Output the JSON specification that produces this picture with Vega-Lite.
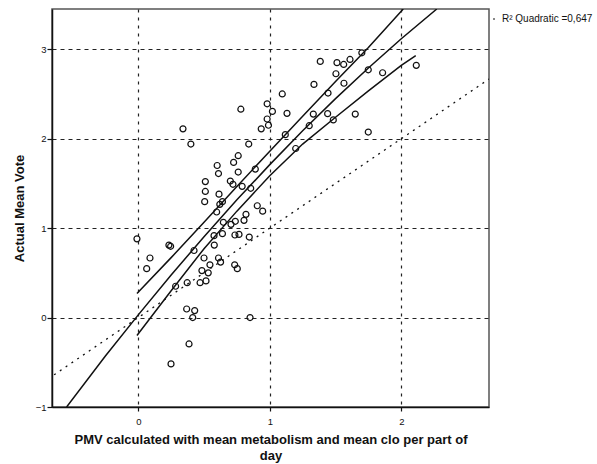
{
  "$schema": "https://vega.github.io/schema/vega-lite/v6.json",
  "width": 437,
  "height": 398,
  "autosize": {"type": "none"},
  "padding": {"left": 52, "top": 9, "right": 108, "bottom": 57},
  "background": "white",
  "config": {
    "font": "Liberation Sans",
    "view": {"stroke": "#555", "strokeWidth": 1.5},
    "axis": {
      "domainColor": "#111",
      "domainWidth": 1.5,
      "tickColor": "#111",
      "tickWidth": 1.2,
      "labelColor": "#111",
      "labelFont": "Liberation Sans",
      "labelFontSize": 9.5,
      "titleFont": "Liberation Sans",
      "titleFontSize": 13,
      "titleFontWeight": "bold",
      "titleColor": "#111",
      "grid": true,
      "gridColor": "#222",
      "gridWidth": 1.2,
      "gridOpacity": 1
    },
    "legend": {
      "orient": "none",
      "legendX": 437,
      "legendY": 5,
      "padding": 0,
      "labelFont": "Liberation Sans",
      "labelFontSize": 10,
      "labelColor": "#111",
      "symbolType": "stroke",
      "symbolSize": 4,
      "symbolStrokeWidth": 1,
      "labelOffset": 3,
      "title": null
    }
  },
  "datasets": {
    "points": [
      {"pmv": 0.78, "vote": 2.33}, {"pmv": 0.34, "vote": 2.11}, {"pmv": 0.40, "vote": 1.94},
      {"pmv": 0.84, "vote": 1.94}, {"pmv": 0.98, "vote": 2.39}, {"pmv": 0.98, "vote": 2.22},
      {"pmv": 0.935, "vote": 2.11}, {"pmv": 0.99, "vote": 2.15}, {"pmv": 0.76, "vote": 1.81},
      {"pmv": 0.725, "vote": 1.735}, {"pmv": 0.60, "vote": 1.70}, {"pmv": 1.384, "vote": 2.864},
      {"pmv": 1.511, "vote": 2.85}, {"pmv": 1.562, "vote": 2.83}, {"pmv": 1.61, "vote": 2.886},
      {"pmv": 1.70, "vote": 2.96}, {"pmv": 1.503, "vote": 2.726}, {"pmv": 1.749, "vote": 2.77},
      {"pmv": 1.858, "vote": 2.737}, {"pmv": 2.114, "vote": 2.82}, {"pmv": 1.336, "vote": 2.607},
      {"pmv": 1.564, "vote": 2.62}, {"pmv": 1.443, "vote": 2.51}, {"pmv": 1.095, "vote": 2.50},
      {"pmv": 1.02, "vote": 2.305}, {"pmv": 1.131, "vote": 2.283}, {"pmv": 1.331, "vote": 2.275},
      {"pmv": 1.44, "vote": 2.28}, {"pmv": 1.30, "vote": 2.145}, {"pmv": 1.483, "vote": 2.21},
      {"pmv": 1.65, "vote": 2.275}, {"pmv": 1.749, "vote": 2.074}, {"pmv": 1.118, "vote": 2.045},
      {"pmv": 1.197, "vote": 1.89}, {"pmv": 0.61, "vote": 1.61}, {"pmv": 0.76, "vote": 1.627},
      {"pmv": 0.51, "vote": 1.52}, {"pmv": 0.51, "vote": 1.41}, {"pmv": 0.505, "vote": 1.296},
      {"pmv": 0.614, "vote": 1.38}, {"pmv": 0.70, "vote": 1.526}, {"pmv": 0.72, "vote": 1.49},
      {"pmv": 0.79, "vote": 1.467}, {"pmv": 0.855, "vote": 1.445}, {"pmv": 0.89, "vote": 1.66},
      {"pmv": 0.905, "vote": 1.25}, {"pmv": 0.946, "vote": 1.19}, {"pmv": 0.62, "vote": 1.266},
      {"pmv": 0.64, "vote": 1.296}, {"pmv": 0.596, "vote": 1.18}, {"pmv": 0.819, "vote": 1.154},
      {"pmv": 0.804, "vote": 1.087}, {"pmv": 0.738, "vote": 1.076}, {"pmv": 0.705, "vote": 1.042},
      {"pmv": 0.647, "vote": 1.065}, {"pmv": 0.64, "vote": 0.938}, {"pmv": 0.576, "vote": 0.916},
      {"pmv": 0.735, "vote": 0.923}, {"pmv": 0.766, "vote": 0.93}, {"pmv": 0.844, "vote": 0.90},
      {"pmv": -0.01, "vote": 0.88}, {"pmv": 0.233, "vote": 0.81}, {"pmv": 0.246, "vote": 0.797},
      {"pmv": 0.578, "vote": 0.81}, {"pmv": 0.424, "vote": 0.75}, {"pmv": 0.089, "vote": 0.666},
      {"pmv": 0.064, "vote": 0.547}, {"pmv": 0.50, "vote": 0.666}, {"pmv": 0.61, "vote": 0.666},
      {"pmv": 0.545, "vote": 0.59}, {"pmv": 0.626, "vote": 0.62}, {"pmv": 0.733, "vote": 0.59},
      {"pmv": 0.753, "vote": 0.547}, {"pmv": 0.484, "vote": 0.525}, {"pmv": 0.532, "vote": 0.50},
      {"pmv": 0.515, "vote": 0.41}, {"pmv": 0.47, "vote": 0.39}, {"pmv": 0.372, "vote": 0.39},
      {"pmv": 0.284, "vote": 0.35}, {"pmv": 0.368, "vote": 0.096}, {"pmv": 0.429, "vote": 0.078},
      {"pmv": 0.414, "vote": 0.0}, {"pmv": 0.85, "vote": 0.0}, {"pmv": 0.386, "vote": -0.295},
      {"pmv": 0.249, "vote": -0.518}
    ],
    "identity": [
      {"pmv": -0.64, "vote": -0.64},
      {"pmv": 2.667, "vote": 2.667}
    ],
    "fit": [
      {"pmv": -0.545, "vote": -1.0}, {"pmv": -0.25, "vote": -0.43}, {"pmv": 0.0, "vote": 0.03},
      {"pmv": 0.25, "vote": 0.476}, {"pmv": 0.5, "vote": 0.904}, {"pmv": 0.75, "vote": 1.316},
      {"pmv": 1.0, "vote": 1.71}, {"pmv": 1.25, "vote": 2.088}, {"pmv": 1.5, "vote": 2.448},
      {"pmv": 1.75, "vote": 2.79}, {"pmv": 2.0, "vote": 3.118}, {"pmv": 2.27, "vote": 3.45}
    ],
    "band": [
      {"bound": "upper", "pmv": -0.01, "vote": 0.27}, {"bound": "upper", "pmv": 0.25, "vote": 0.67},
      {"bound": "upper", "pmv": 0.5, "vote": 1.065}, {"bound": "upper", "pmv": 0.75, "vote": 1.465},
      {"bound": "upper", "pmv": 1.0, "vote": 1.86}, {"bound": "upper", "pmv": 1.25, "vote": 2.25},
      {"bound": "upper", "pmv": 1.5, "vote": 2.64}, {"bound": "upper", "pmv": 1.75, "vote": 3.02},
      {"bound": "upper", "pmv": 2.015, "vote": 3.45},
      {"bound": "lower", "pmv": -0.01, "vote": -0.2}, {"bound": "lower", "pmv": 0.25, "vote": 0.30},
      {"bound": "lower", "pmv": 0.5, "vote": 0.77}, {"bound": "lower", "pmv": 0.75, "vote": 1.19},
      {"bound": "lower", "pmv": 1.0, "vote": 1.585}, {"bound": "lower", "pmv": 1.25, "vote": 1.94},
      {"bound": "lower", "pmv": 1.5, "vote": 2.24}, {"bound": "lower", "pmv": 1.75, "vote": 2.535},
      {"bound": "lower", "pmv": 2.0, "vote": 2.82}, {"bound": "lower", "pmv": 2.11, "vote": 2.93}
    ]
  },
  "encoding": {
    "x": {
      "field": "pmv",
      "type": "quantitative",
      "scale": {"domain": [-0.656, 2.667], "nice": false, "zero": false},
      "axis": {
        "values": [0, 1, 2],
        "format": "d",
        "gridDash": [3, 5],
        "tickSize": 4,
        "labelPadding": 5,
        "title": ["PMV calculated with mean metabolism and mean clo per part of", "day"],
        "titlePadding": 8,
        "titleLineHeight": 16
      }
    },
    "y": {
      "field": "vote",
      "type": "quantitative",
      "scale": {"domain": [-1, 3.45], "nice": false, "zero": false},
      "axis": {
        "values": [-1, 0, 1, 2, 3],
        "format": "d",
        "gridDash": [4, 4],
        "tickSize": 5,
        "labelPadding": 1,
        "title": "Actual Mean Vote",
        "titlePadding": 9
      }
    }
  },
  "layer": [
    {
      "data": {"name": "identity"},
      "mark": {"type": "line", "color": "#111", "strokeWidth": 1.3, "strokeDash": [2, 5], "clip": true}
    },
    {
      "data": {"name": "band"},
      "mark": {"type": "line", "color": "#111", "strokeWidth": 1.5, "clip": true},
      "encoding": {"detail": {"field": "bound"}}
    },
    {
      "data": {"name": "fit"},
      "mark": {"type": "line", "strokeWidth": 1.5, "clip": true},
      "encoding": {
        "color": {
          "datum": "R² Quadratic =0,647",
          "scale": {"range": ["#111"]}
        }
      }
    },
    {
      "data": {"name": "points"},
      "mark": {"type": "point", "shape": "circle", "filled": false, "color": "#111", "size": 36, "strokeWidth": 1.2, "opacity": 1}
    }
  ]
}
